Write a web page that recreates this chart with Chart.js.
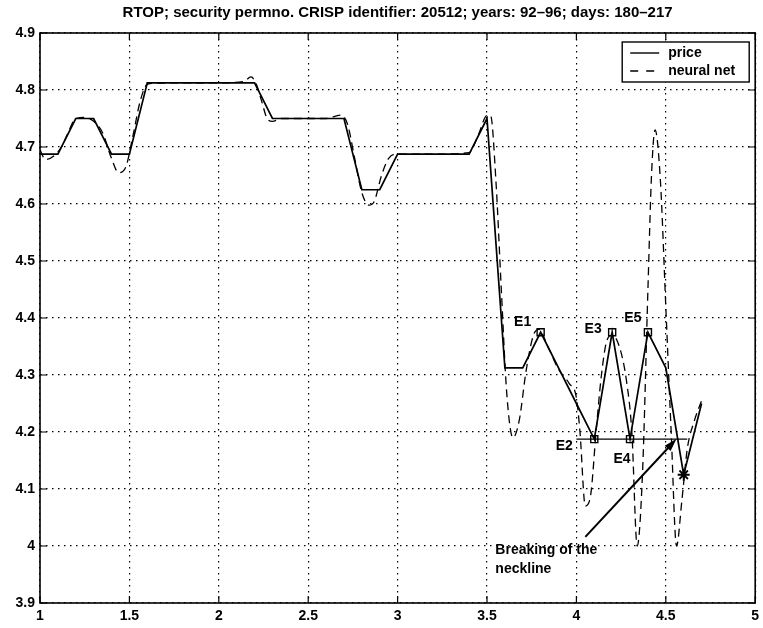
<!DOCTYPE html>
<html>
<head>
<meta charset="utf-8">
<script src="https://cdn.jsdelivr.net/npm/chart.js@4.4.1/dist/chart.umd.min.js"></script>
<style>
  html, body { margin: 0; padding: 0; background: #fff; }
</style>
</head>
<body>
<canvas id="rtop-chart" width="763" height="628"></canvas>
<script>
const titleText = 'RTOP; security permno. CRISP identifier: 20512; years: 92–96; days: 180–217';

const xTicks = [1, 1.5, 2, 2.5, 3, 3.5, 4, 4.5, 5];
const xTickLabels = ['1', '1.5', '2', '2.5', '3', '3.5', '4', '4.5', '5'];
const yTicks = [3.9, 4, 4.1, 4.2, 4.3, 4.4, 4.5, 4.6, 4.7, 4.8, 4.9];
const yTickLabels = ['3.9', '4', '4.1', '4.2', '4.3', '4.4', '4.5', '4.6', '4.7', '4.8', '4.9'];

// daily closing price (log scale units)
const priceX = [1.0, 1.1, 1.2, 1.3, 1.4, 1.5, 1.6, 1.7, 1.8, 1.9,
                2.0, 2.1, 2.2, 2.3, 2.4, 2.5, 2.6, 2.7, 2.8, 2.9,
                3.0, 3.1, 3.2, 3.3, 3.4, 3.5, 3.6, 3.7, 3.8, 3.9,
                4.0, 4.1, 4.2, 4.3, 4.4, 4.5, 4.6, 4.7];
const priceY = [4.6875, 4.6875, 4.75, 4.75, 4.6875, 4.6875, 4.8125, 4.8125, 4.8125, 4.8125,
                4.8125, 4.8125, 4.8125, 4.75, 4.75, 4.75, 4.75, 4.75, 4.625, 4.625,
                4.6875, 4.6875, 4.6875, 4.6875, 4.6875, 4.75, 4.3125, 4.3125, 4.375, 4.3125,
                4.25, 4.1875, 4.375, 4.1875, 4.375, 4.3125, 4.125, 4.25];

// neural net smoother output
const netX = [1.00, 1.03, 1.08, 1.12, 1.15, 1.20, 1.25, 1.30, 1.35, 1.40,
              1.44, 1.48, 1.52, 1.56, 1.60, 1.65, 1.80, 2.00, 2.14, 2.18,
              2.21, 2.24, 2.27, 2.30, 2.35, 2.60, 2.68, 2.72, 2.76, 2.80,
              2.84, 2.87, 2.91, 2.95, 3.00, 3.20, 3.40, 3.45, 3.50, 3.52,
              3.55, 3.58, 3.61, 3.645, 3.68, 3.72, 3.76, 3.79, 3.84, 3.90,
              3.96, 4.00, 4.02, 4.05, 4.08, 4.11, 4.14, 4.17, 4.20, 4.24,
              4.28, 4.31, 4.34, 4.37, 4.40, 4.42, 4.44, 4.47, 4.50, 4.53,
              4.56, 4.59, 4.62, 4.66, 4.70];
const netY = [4.695, 4.678, 4.685, 4.70, 4.72, 4.75, 4.752, 4.745, 4.725, 4.68,
              4.655, 4.665, 4.72, 4.78, 4.81, 4.812, 4.8125, 4.8125, 4.815, 4.823,
              4.81, 4.78, 4.75, 4.745, 4.75, 4.75, 4.756, 4.74, 4.68, 4.62,
              4.598, 4.605, 4.65, 4.68, 4.6875, 4.6875, 4.69, 4.72, 4.755, 4.755,
              4.64, 4.45, 4.27, 4.19, 4.22, 4.31, 4.37, 4.38, 4.35, 4.31,
              4.285, 4.26, 4.2, 4.07, 4.09, 4.2, 4.3, 4.36, 4.37, 4.35,
              4.29, 4.2, 4.0, 4.13, 4.45, 4.65, 4.73, 4.64, 4.42, 4.2,
              4.0, 4.08, 4.17, 4.22, 4.255];

// head-and-shoulders extrema and breakout
const extremaNames = ['E1', 'E2', 'E3', 'E4', 'E5'];
const extremaX = [3.8, 4.1, 4.2, 4.3, 4.4];
const extremaY = [4.375, 4.1875, 4.375, 4.1875, 4.375];
const breakX = [4.6];
const breakY = [4.125];
const necklineX = [4.0, 4.62];
const necklineY = [4.1875, 4.1875];
const arrowX = [4.05, 4.56];
const arrowY = [4.016, 4.188];

const toPoints = (xs, ys) => xs.map((x, i) => ({ x: x, y: ys[i] }));

const tickFont = { family: 'Liberation Sans', size: 14, weight: 'bold' };

// frame, inward ticks, title, legend and annotations in MATLAB style
const matlabPlot = {
  id: 'matlabPlot',
  afterDatasetsDraw(chart) {
    const ctx = chart.ctx;
    const area = chart.chartArea;
    const xs = chart.scales.x;
    const ys = chart.scales.y;
    ctx.save();
    ctx.strokeStyle = '#000';
    ctx.fillStyle = '#000';
    ctx.setLineDash([]);

    // box
    ctx.lineWidth = 1.6;
    ctx.strokeRect(area.left, area.top, area.right - area.left, area.bottom - area.top);

    // inward ticks
    ctx.lineWidth = 1.2;
    ctx.beginPath();
    xTicks.forEach(v => {
      const px = xs.getPixelForValue(v);
      ctx.moveTo(px, area.bottom); ctx.lineTo(px, area.bottom - 7);
      ctx.moveTo(px, area.top); ctx.lineTo(px, area.top + 7);
    });
    yTicks.forEach(v => {
      const py = ys.getPixelForValue(v);
      ctx.moveTo(area.left, py); ctx.lineTo(area.left + 7, py);
      ctx.moveTo(area.right, py); ctx.lineTo(area.right - 7, py);
    });
    ctx.stroke();

    // title
    ctx.font = 'bold 15px "Liberation Sans"';
    ctx.textAlign = 'center';
    ctx.textBaseline = 'middle';
    ctx.fillText(titleText, (area.left + area.right) / 2, 13);

    // extrema labels
    const offsets = [[-18, -10], [-30, 7], [-19, -3], [-8, 20], [-15, -14]];
    ctx.font = 'bold 14px "Liberation Sans"';
    extremaNames.forEach((name, i) => {
      const px = xs.getPixelForValue(extremaX[i]);
      const py = ys.getPixelForValue(extremaY[i]);
      ctx.fillText(name, px + offsets[i][0], py + offsets[i][1]);
    });

    // arrow pointing to the neckline break
    const ax0 = xs.getPixelForValue(arrowX[0]);
    const ay0 = ys.getPixelForValue(arrowY[0]);
    const ax1 = xs.getPixelForValue(arrowX[1]);
    const ay1 = ys.getPixelForValue(arrowY[1]);
    const ang = Math.atan2(ay1 - ay0, ax1 - ax0);
    ctx.lineWidth = 2;
    ctx.beginPath();
    ctx.moveTo(ax0, ay0);
    ctx.lineTo(ax1 - 8 * Math.cos(ang), ay1 - 8 * Math.sin(ang));
    ctx.stroke();
    ctx.beginPath();
    ctx.moveTo(ax1, ay1);
    ctx.lineTo(ax1 - 13 * Math.cos(ang) + 4 * Math.sin(ang), ay1 - 13 * Math.sin(ang) - 4 * Math.cos(ang));
    ctx.lineTo(ax1 - 13 * Math.cos(ang) - 4 * Math.sin(ang), ay1 - 13 * Math.sin(ang) + 4 * Math.cos(ang));
    ctx.closePath();
    ctx.fill();

    ctx.textAlign = 'left';
    ctx.fillText('Breaking of the', ax0 - 90, ay0 + 13);
    ctx.fillText('neckline', ax0 - 90, ay0 + 32);

    // legend
    const lx = area.right - 133;
    const ly = area.top + 9;
    ctx.fillStyle = '#fff';
    ctx.fillRect(lx, ly, 127, 40);
    ctx.lineWidth = 1.4;
    ctx.strokeRect(lx, ly, 127, 40);
    ctx.fillStyle = '#000';
    ctx.lineWidth = 1.4;
    ctx.beginPath();
    ctx.moveTo(lx + 8, ly + 11); ctx.lineTo(lx + 37, ly + 11);
    ctx.stroke();
    ctx.setLineDash([8, 8]);
    ctx.beginPath();
    ctx.moveTo(lx + 8, ly + 29); ctx.lineTo(lx + 37, ly + 29);
    ctx.stroke();
    ctx.setLineDash([]);
    ctx.textBaseline = 'middle';
    ctx.fillText('price', lx + 46, ly + 11);
    ctx.fillText('neural net', lx + 46, ly + 29);

    ctx.restore();
  }
};

const ctx = document.getElementById('rtop-chart').getContext('2d');
const rtopChart = new Chart(ctx, {
  type: 'line',
  data: {
    datasets: [{
      label: 'neural net',
      data: toPoints(netX, netY),
      borderColor: '#000',
      borderWidth: 1.3,
      borderDash: [8, 5],
      pointRadius: 0,
      cubicInterpolationMode: 'monotone',
      fill: false
    }, {
      label: 'price',
      data: toPoints(priceX, priceY),
      borderColor: '#000',
      borderWidth: 1.7,
      pointRadius: 0,
      tension: 0,
      fill: false
    }, {
      label: 'neckline',
      data: toPoints(necklineX, necklineY),
      borderColor: '#000',
      borderWidth: 1.4,
      pointRadius: 0,
      fill: false
    }, {
      label: 'extrema',
      data: toPoints(extremaX, extremaY),
      showLine: false,
      pointStyle: 'rect',
      pointRadius: 5,
      pointBackgroundColor: '#fff',
      pointBorderColor: '#000',
      pointBorderWidth: 1.4
    }, {
      label: 'break',
      data: toPoints(breakX, breakY),
      showLine: false,
      pointStyle: 'star',
      pointRadius: 6,
      pointBorderColor: '#000',
      pointBorderWidth: 1.8
    }]
  },
  options: {
    responsive: false,
    animation: false,
    layout: { padding: { top: 33, right: 1, left: 0, bottom: 0 } },
    plugins: {
      legend: { display: false },
      tooltip: { enabled: false },
      title: { display: false }
    },
    scales: {
      x: {
        type: 'linear',
        min: 1,
        max: 5,
        afterBuildTicks: axis => { axis.ticks = xTicks.map(v => ({ value: v })); },
        afterFit: axis => { axis.height = 25; axis.paddingLeft = 0; axis.paddingRight = 0; },
        grid: { color: '#000', lineWidth: 1.2, drawTicks: false },
        border: { display: false, dash: [1.5, 4.5] },
        ticks: {
          color: '#000', font: tickFont, padding: 5, maxRotation: 0,
          callback: (v, i) => xTickLabels[i]
        }
      },
      y: {
        type: 'linear',
        min: 3.9,
        max: 4.9,
        afterBuildTicks: axis => { axis.ticks = yTicks.map(v => ({ value: v })); },
        afterFit: axis => { axis.width = 40; axis.paddingTop = 0; axis.paddingBottom = 0; },
        grid: { color: '#000', lineWidth: 1.2, drawTicks: false },
        border: { display: false, dash: [1.5, 4.5] },
        ticks: {
          color: '#000', font: tickFont, padding: 5,
          callback: (v, i) => yTickLabels[i]
        }
      }
    }
  },
  plugins: [matlabPlot]
});
</script>
</body>
</html>
